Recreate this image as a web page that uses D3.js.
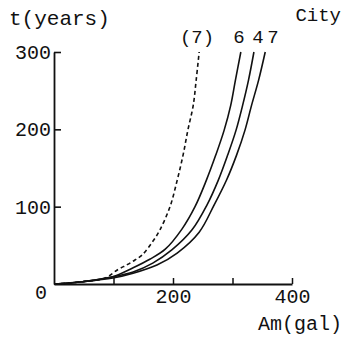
<!DOCTYPE html>
<html><head><meta charset="utf-8">
<script src="https://cdn.jsdelivr.net/npm/d3@7"></script>
<style>body{margin:0;background:#fff}svg{display:block}text{font-family:"Liberation Mono","DejaVu Sans Mono",monospace;fill:#111}</style>
</head><body>
<script>
// City (7) dashed, and cities 6, 4, 7 solid: Am (gal) vs t (years)
const city7pAm = [0, 48, 86, 108, 123, 136, 148, 165, 178, 195, 207, 217, 225, 234, 239, 244];
const city7pT  = [0, 3, 7.8, 19, 25, 31, 37.5, 54, 70, 100, 134, 167, 199, 231, 264, 300];
const city6Am  = [0, 48, 97, 133, 161, 187, 215, 237, 256, 272, 286, 297, 305, 314];
const city6T   = [0, 3, 9, 21, 32, 45, 71, 100, 134, 167, 199, 231, 264, 300];
const city4Am  = [0, 48, 97, 133, 166, 198, 232, 257, 276, 292, 306, 317, 327, 336];
const city4T   = [0, 3, 9, 15.5, 27, 44, 70, 102, 134, 167, 199, 231, 264, 300];
const city7Am  = [0, 48, 99, 133, 173, 207, 244, 269, 290, 307, 321, 332, 344, 355];
const city7T   = [0, 3, 7.8, 14, 24.6, 40, 67, 102, 134.5, 167, 199, 231, 264, 300];
const seriesNames = ["(7)", "6", "4", "7"];
const yTicks = [100, 200, 300];
const xTicks = [100, 200, 300, 400];
const xLabels = [200, 400];

const W = 346, H = 337;
const FONT = "Liberation Mono, DejaVu Sans Mono, monospace";
const svg = d3.select("body").append("svg").attr("width", W).attr("height", H);
const x = d3.scaleLinear().domain([0, 400]).range([54, 292]);
const y = d3.scaleLinear().domain([0, 300]).range([284, 52]);

// axes
const gy = svg.append("g").attr("transform", `translate(${x(0)},0)`)
  .call(d3.axisLeft(y).tickValues(yTicks).tickSize(-7).tickSizeOuter(0).tickFormat(d3.format("d")));
gy.select(".domain").attr("stroke", "#111").attr("stroke-width", 1.8);
gy.selectAll(".tick line").attr("stroke", "#111").attr("stroke-width", 1.6);
gy.selectAll(".tick text").attr("x", -3).attr("font-size", 20).attr("fill", "#111")
  .attr("font-family", FONT);

const gx = svg.append("g").attr("transform", `translate(0,${y(0)})`)
  .call(d3.axisBottom(x).tickValues(xTicks).tickSize(-6).tickSizeOuter(0).tickFormat(d => xLabels.includes(d) ? d : ""));
gx.select(".domain").attr("stroke", "#111").attr("stroke-width", 1.8);
gx.selectAll(".tick line").attr("stroke", "#111").attr("stroke-width", 1.5);
gx.selectAll(".tick text").attr("y", 5).attr("font-size", 20).attr("fill", "#111")
  .attr("font-family", FONT);

svg.append("text").attr("x", 41).attr("y", 299).attr("font-size", 20).attr("text-anchor", "middle").text("0");

// titles
svg.append("text").attr("x", 9).attr("y", 25).attr("font-size", 21).text("t(years)");
svg.append("text").attr("x", 342).attr("y", 330).attr("font-size", 20).attr("text-anchor", "end").text("Am(gal)");
svg.append("text").attr("x", 341).attr("y", 21).attr("font-size", 19).attr("text-anchor", "end").text("City");

// curves
const seriesData = [[city7pAm, city7pT], [city6Am, city6T], [city4Am, city4T], [city7Am, city7T]];
const line = d3.line().x(d => x(d[0])).y(d => y(d[1])).curve(d3.curveCatmullRom.alpha(0.5));
seriesData.forEach(([am, t], i) => {
  const pts = am.map((a, k) => [a, t[k]]);
  svg.append("path").attr("d", line(pts)).attr("fill", "none").attr("stroke", "#111")
    .attr("stroke-width", 1.6).attr("stroke-dasharray", i === 0 ? "4,3" : null);
});

// series labels
const labelX = [197, 239, 258, 273];
seriesNames.forEach((n, i) => {
  svg.append("text").attr("x", labelX[i]).attr("y", 43).attr("font-size", 19).attr("text-anchor", "middle").text(n);
});
</script>
</body></html>
